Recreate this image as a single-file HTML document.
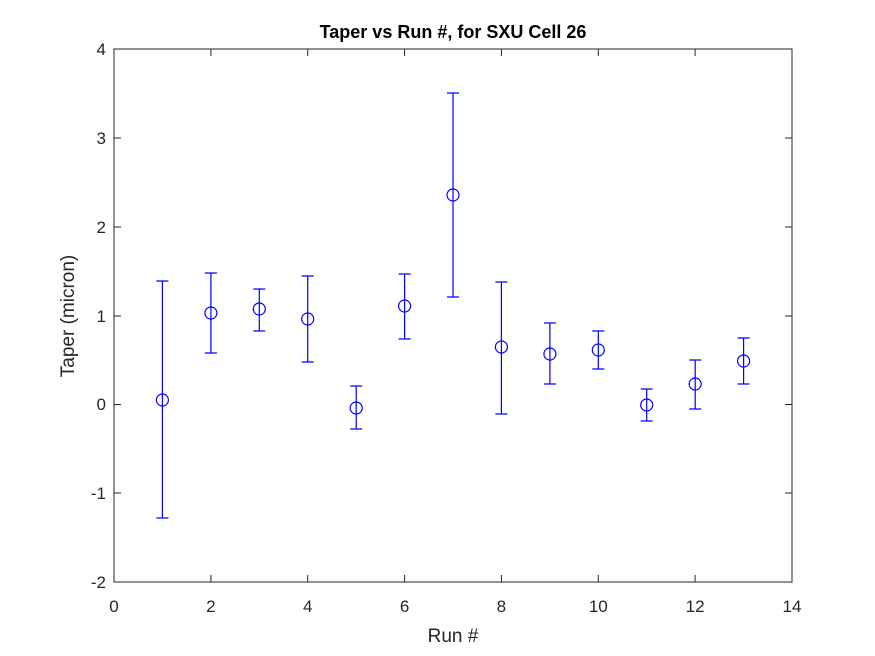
<!DOCTYPE html>
<html><head><style>body{margin:0;background:#fff}svg{display:block}</style></head><body>
<svg width="875" height="656" xmlns="http://www.w3.org/2000/svg" font-family="Liberation Sans, Arial, sans-serif">
<rect width="875" height="656" fill="#fff"/>
<rect x="114" y="49" width="678" height="533" fill="#fff" stroke="#262626" stroke-width="1"/>
<g stroke="#262626" stroke-width="1">
<line x1="210.9" y1="582" x2="210.9" y2="575"/><line x1="307.7" y1="582" x2="307.7" y2="575"/><line x1="404.6" y1="582" x2="404.6" y2="575"/><line x1="501.4" y1="582" x2="501.4" y2="575"/><line x1="598.3" y1="582" x2="598.3" y2="575"/><line x1="695.1" y1="582" x2="695.1" y2="575"/>
<line x1="210.9" y1="49" x2="210.9" y2="56"/><line x1="307.7" y1="49" x2="307.7" y2="56"/><line x1="404.6" y1="49" x2="404.6" y2="56"/><line x1="501.4" y1="49" x2="501.4" y2="56"/><line x1="598.3" y1="49" x2="598.3" y2="56"/><line x1="695.1" y1="49" x2="695.1" y2="56"/>
<line x1="114" y1="138" x2="121" y2="138"/><line x1="114" y1="227" x2="121" y2="227"/><line x1="114" y1="316" x2="121" y2="316"/><line x1="114" y1="404.5" x2="121" y2="404.5"/><line x1="114" y1="493" x2="121" y2="493"/>
<line x1="792" y1="138" x2="785" y2="138"/><line x1="792" y1="227" x2="785" y2="227"/><line x1="792" y1="316" x2="785" y2="316"/><line x1="792" y1="404.5" x2="785" y2="404.5"/><line x1="792" y1="493" x2="785" y2="493"/>
</g>
<g font-size="17" fill="#262626" text-anchor="middle">
<text x="114" y="612">0</text><text x="210.9" y="612">2</text><text x="307.7" y="612">4</text><text x="404.6" y="612">6</text><text x="501.4" y="612">8</text><text x="598.3" y="612">10</text><text x="695.1" y="612">12</text><text x="792" y="612">14</text>
</g>
<g font-size="17" fill="#262626" text-anchor="end">
<text x="106" y="55">4</text><text x="106" y="144">3</text><text x="106" y="233">2</text><text x="106" y="322">1</text><text x="106" y="410">0</text><text x="106" y="499">-1</text><text x="106" y="588">-2</text>
</g>
<text x="453" y="642" font-size="19" fill="#262626" text-anchor="middle">Run #</text>
<text transform="translate(74,316) rotate(-90)" font-size="19" fill="#262626" text-anchor="middle">Taper (micron)</text>
<text x="453" y="38" font-size="18" font-weight="bold" fill="#000" text-anchor="middle">Taper vs Run #, for SXU Cell 26</text>
<g stroke="#0000ff" stroke-width="1.2" fill="none">
<path d="M162.4 281V518M156.4 281H168.4M156.4 518H168.4"/>
<path d="M210.9 273V353M204.9 273H216.9M204.9 353H216.9"/>
<path d="M259.3 289V331M253.3 289H265.3M253.3 331H265.3"/>
<path d="M307.7 276V362M301.7 276H313.7M301.7 362H313.7"/>
<path d="M356.2 386V429M350.2 386H362.2M350.2 429H362.2"/>
<path d="M404.6 274V339M398.6 274H410.6M398.6 339H410.6"/>
<path d="M453 93V297M447 93H459M447 297H459"/>
<path d="M501.4 282V414M495.4 282H507.4M495.4 414H507.4"/>
<path d="M549.9 323V384M543.9 323H555.9M543.9 384H555.9"/>
<path d="M598.3 331V369M592.3 331H604.3M592.3 369H604.3"/>
<path d="M646.7 389V421M640.7 389H652.7M640.7 421H652.7"/>
<path d="M695.2 360V409M689.2 360H701.2M689.2 409H701.2"/>
<path d="M743.6 338V384M737.6 338H749.6M737.6 384H749.6"/>
<circle cx="162.4" cy="400" r="6"/><circle cx="210.9" cy="313" r="6"/><circle cx="259.3" cy="309" r="6"/><circle cx="307.7" cy="319" r="6"/><circle cx="356.2" cy="408" r="6"/><circle cx="404.6" cy="306" r="6"/><circle cx="453" cy="195" r="6"/><circle cx="501.4" cy="347" r="6"/><circle cx="549.9" cy="354" r="6"/><circle cx="598.3" cy="350" r="6"/><circle cx="646.7" cy="405" r="6"/><circle cx="695.2" cy="384" r="6"/><circle cx="743.6" cy="361" r="6"/>
</g>
</svg>
</body></html>
